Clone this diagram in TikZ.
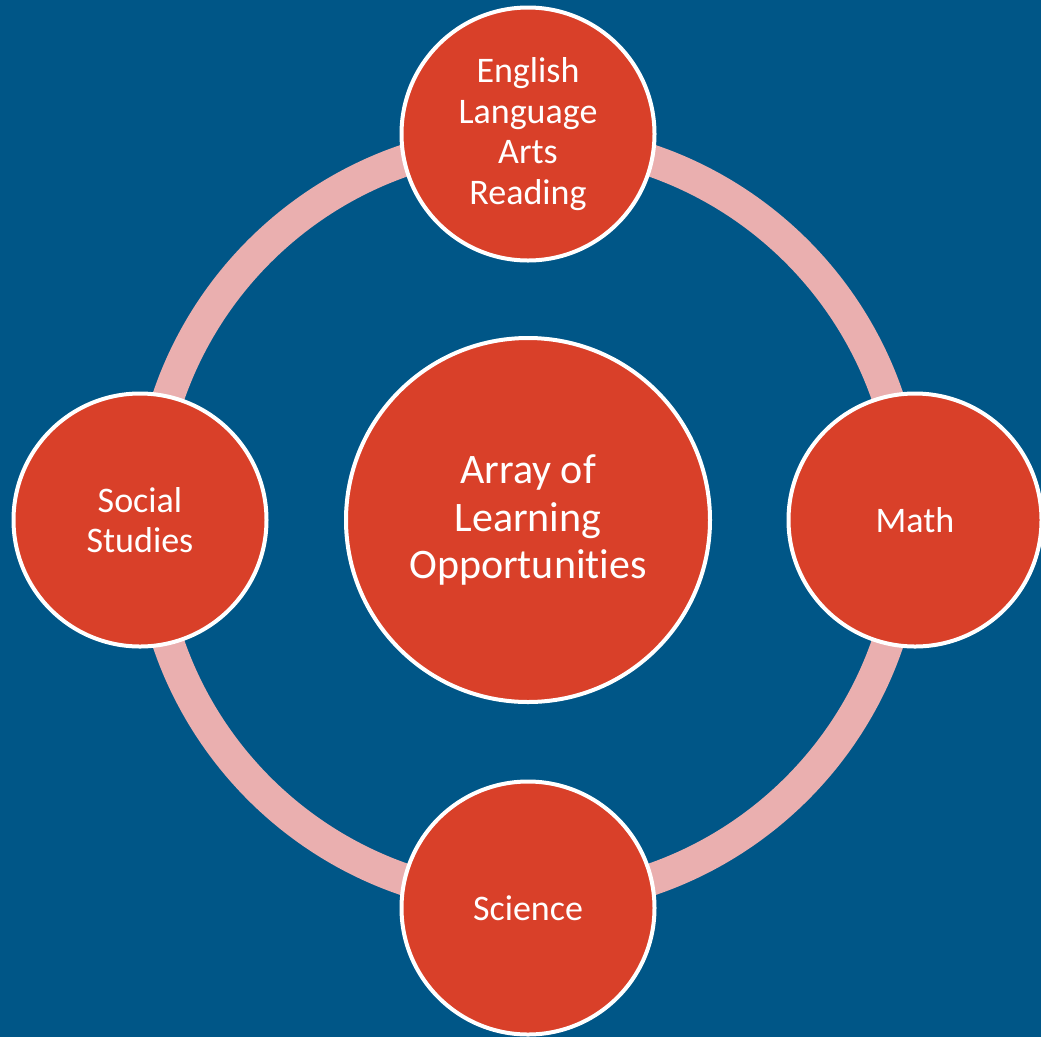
\documentclass[tikz,border=0pt]{standalone}
\usepackage{fontspec}
\setmainfont[Ligatures={NoCommon}]{Carlito}
\definecolor{bgblue}{RGB}{0,86,135}
\definecolor{ringpink}{RGB}{234,175,175}
\definecolor{nodered}{RGB}{217,64,41}
\begin{document}
\begin{tikzpicture}[x=1pt,y=-1pt,
  subject/.style={circle,draw=white,line width=4pt,fill=nodered,text=white,
    minimum size=253pt,inner sep=0pt,align=center,
    font=\fontsize{36}{40.5}\selectfont},
  hub/.style={circle,draw=white,line width=4pt,fill=nodered,text=white,
    minimum size=364pt,inner sep=0pt,align=center,
    font=\fontsize{42}{47.5}\selectfont},
  ring/.style={draw=ringpink,line width=32pt}]
\fill[bgblue] (0,0) rectangle (1041,1037);
\useasboundingbox (0,0) rectangle (1041,1037);
\coordinate (ctr) at (528,520);
\draw[ring] (ctr) circle (380);
\node[hub] (hubnode) at (ctr) {Array of\\Learning\\Opportunities};
\node[subject] (ela) at (528,134) {English\\Language\\Arts\\Reading};
\node[subject] (math) at (915,520) {Math};
\node[subject] (sci) at (528,908) {Science};
\node[subject] (soc) at (140,520) {Social\\Studies};
\end{tikzpicture}
\end{document}
